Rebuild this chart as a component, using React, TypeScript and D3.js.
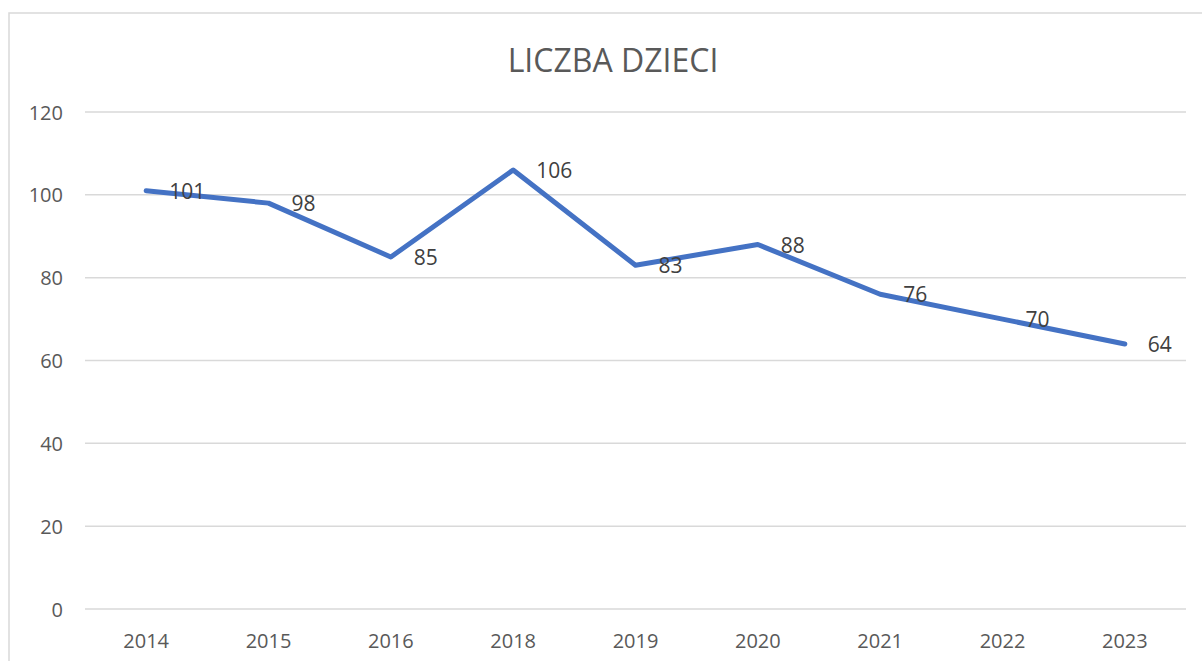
import React, { useEffect, useRef } from 'react';
import * as d3 from 'd3';

// chart data
const years = ['2014', '2015', '2016', '2018', '2019', '2020', '2021', '2022', '2023'];
const children = [101, 98, 85, 106, 83, 88, 76, 70, 64];
const yTicks = [0, 20, 40, 60, 80, 100, 120];
const title = 'LICZBA DZIECI';

const App: React.FC = () => {
  const ref = useRef<SVGSVGElement>(null);

  useEffect(() => {
    if (!ref.current) return;
    const svg = d3.select(ref.current);
    svg.selectAll('*').remove();

    const width = 1202;
    const height = 661;
    const font = "'Open Sans', 'Liberation Sans', sans-serif";

    // chart area border (left + top visible)
    svg.append('rect')
      .attr('x', 9)
      .attr('y', 13)
      .attr('width', width + 20)
      .attr('height', height + 20)
      .attr('fill', '#fff')
      .attr('stroke', '#d9d9d9')
      .attr('stroke-width', 1.5);

    const plot = { left: 85, right: 1186, top: 112, bottom: 609 };

    const x = d3.scaleBand()
      .domain(years)
      .range([plot.left, plot.right]);

    const y = d3.scaleLinear()
      .domain([0, 120])
      .range([plot.bottom, plot.top]);

    // gridlines
    svg.append('g')
      .selectAll('line')
      .data(yTicks)
      .join('line')
      .attr('x1', plot.left)
      .attr('x2', plot.right)
      .attr('y1', d => y(d))
      .attr('y2', d => y(d))
      .attr('stroke', '#d9d9d9')
      .attr('stroke-width', 1.5);

    // y labels
    svg.append('g')
      .selectAll('text')
      .data(yTicks)
      .join('text')
      .attr('x', 63)
      .attr('y', d => y(d))
      .attr('text-anchor', 'end')
      .attr('dominant-baseline', 'central')
      .style('font-family', font)
      .style('font-size', '20px')
      .attr('fill', '#595959')
      .text(d => d);

    // x labels
    svg.append('g')
      .selectAll('text')
      .data(years)
      .join('text')
      .attr('x', d => x(d)! + x.bandwidth() / 2)
      .attr('y', 640)
      .attr('text-anchor', 'middle')
      .attr('dominant-baseline', 'central')
      .style('font-family', font)
      .style('font-size', '20px')
      .attr('fill', '#595959')
      .text(d => d);

    // the line
    const line = d3.line<number>()
      .x((_, i) => x(years[i])! + x.bandwidth() / 2)
      .y(d => y(d));

    svg.append('path')
      .attr('d', line(children)!)
      .attr('fill', 'none')
      .attr('stroke', '#4472C4')
      .attr('stroke-width', 5)
      .attr('stroke-linecap', 'round')
      .attr('stroke-linejoin', 'round');

    // data labels to the right of each point
    svg.append('g')
      .selectAll('text')
      .data(children)
      .join('text')
      .attr('x', (_, i) => x(years[i])! + x.bandwidth() / 2 + 23)
      .attr('y', d => y(d))
      .attr('dominant-baseline', 'central')
      .style('font-family', font)
      .style('font-size', '21px')
      .attr('fill', '#404040')
      .text(d => d);

    // title
    svg.append('text')
      .attr('x', 613)
      .attr('y', 59)
      .attr('text-anchor', 'middle')
      .attr('dominant-baseline', 'central')
      .style('font-family', font)
      .style('font-size', '32px')
      .attr('fill', '#595959')
      .text(title);
  }, []);

  return (
    <div style={{ position: 'absolute', left: 0, top: 0 }}>
      <svg ref={ref} width={1202} height={661} style={{ display: 'block' }} />
    </div>
  );
};

export default App;
